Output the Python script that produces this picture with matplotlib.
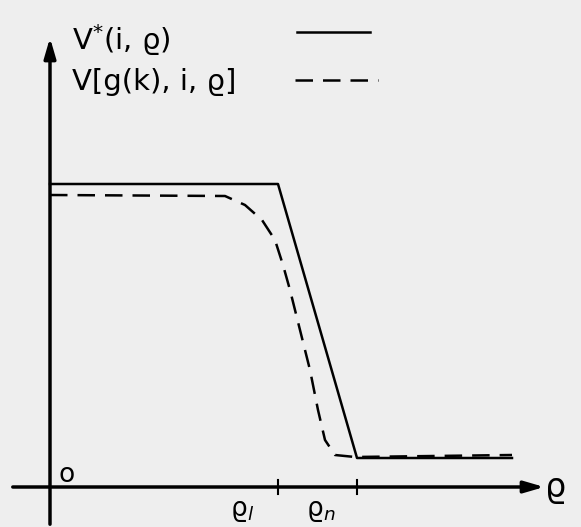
import matplotlib.pyplot as plt

# 曲线数据（以原点为基准的单位）
rho_opt = [0, 228, 307, 462]
v_opt = [303, 303, 29, 29]

rho_g = [0, 175, 195, 212, 225, 233, 240, 250, 260, 268, 275, 285, 305, 462]
v_g = [292, 291, 282, 267, 247, 222, 197, 157, 117, 77, 47, 32, 30, 32]

# 横轴刻度
tick_pos = [228, 307]
tick_labels = ['ϱ$_l$', 'ϱ$_n$']

legend_labels = ['V$^{*}$(i, ϱ)', 'V[g(k), i, ϱ]']

bg = '#eeeeee'
fig = plt.figure(figsize=(5.81, 5.27), dpi=100, facecolor=bg)
ax = fig.add_axes([0, 0, 1, 1])
ax.set_facecolor(bg)
ax.set_xlim(-50, 531)
ax.set_ylim(-40, 487)
ax.axis('off')

# 坐标轴
ax.annotate('', xy=(497, 0), xytext=(-40, 0),
            arrowprops=dict(arrowstyle='-|>,head_length=1.2,head_width=0.35', lw=2.5, color='black'))
ax.annotate('', xy=(0, 452), xytext=(0, -40),
            arrowprops=dict(arrowstyle='-|>,head_length=1.2,head_width=0.35', lw=2.5, color='black'))

for t, lab in zip(tick_pos, tick_labels):
    ax.plot([t, t], [-7, 7], color='black', lw=1.5)
    ax.text(t - 36, -24, lab, fontsize=19, ha='center', va='center')

ax.text(17, 12, 'o', fontsize=19, ha='center', va='center')
ax.text(506, 0, 'ϱ', fontsize=24, ha='center', va='center')

# 曲线
ax.plot(rho_opt, v_opt, color='black', lw=1.8)
ax.plot(rho_g, v_g, color='black', lw=1.8, dashes=(7, 4))

# 图例
ax.text(22, 447, legend_labels[0], fontsize=21, ha='left', va='center')
ax.text(22, 405, legend_labels[1], fontsize=21, ha='left', va='center')
ax.plot([247, 320], [455, 455], color='black', lw=1.8)
ax.plot([245, 328], [407, 407], color='black', lw=1.8, dashes=(7, 4))

fig.savefig('out.png', dpi=100, facecolor=bg)
